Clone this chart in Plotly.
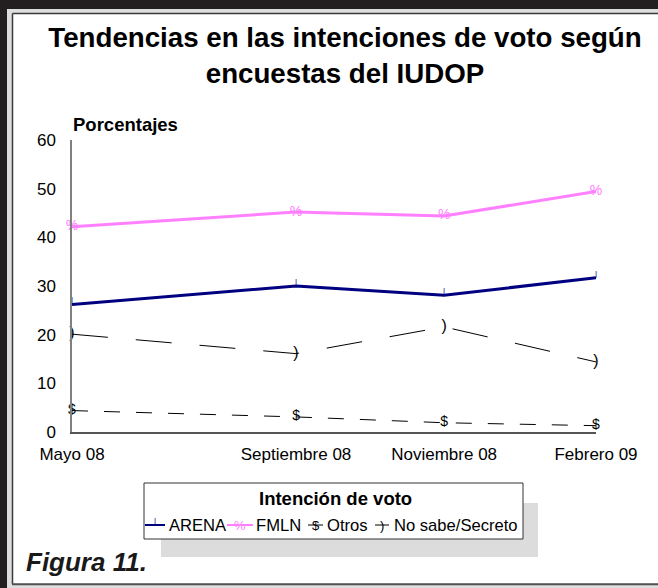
import plotly.graph_objects as go

# ---------------- data ----------------
survey_dates = ["2008-05-10", "2008-09-05", "2008-11-22", "2009-02-10"]
tick_labels = ["Mayo 08", "Septiembre 08", "Noviembre 08", "Febrero 09"]
series_names = ["ARENA", "FMLN", "Otros", "No sabe/Secreto"]
arena = [26.2, 30.0, 28.1, 31.7]
fmln = [42.2, 45.2, 44.4, 49.4]
otros = [4.4, 3.1, 1.9, 1.3]
no_sabe = [20.1, 16.1, 21.6, 14.4]
y_ticks = [0, 10, 20, 30, 40, 50, 60]

title_text = "Tendencias en las intenciones de voto según<br>encuestas del IUDOP"
y_title = "Porcentajes"
legend_title = "Intención de voto"
figure_label = "Figura 11."

# ---------------- styles ----------------
FONT = "Liberation Sans, Arial, sans-serif"
W, H = 658, 588
L, R, T, B = 72, 596, 140, 432  # plot area in pixels


def px(x):
    return (x - L) / (R - L)


def py(y):
    return (B - y) / (B - T)


styles = {
    "ARENA": dict(color="#000080", width=3, dash="solid", glyph="|", gsize=8, gpos="top center"),
    "FMLN": dict(color="#ff80ff", width=3, dash="solid", glyph="%", gsize=14, gpos="middle center"),
    "Otros": dict(color="#000000", width=1, dash="16px,16px", glyph="$", gsize=14, gpos="middle center"),
    "No sabe/Secreto": dict(color="#000000", width=1, dash="36px,28px", glyph=")", gsize=16, gpos="middle center"),
}
values = dict(zip(series_names, [arena, fmln, otros, no_sabe]))

fig = go.Figure()
for name in series_names:
    s = styles[name]
    fig.add_trace(go.Scatter(
        x=survey_dates, y=values[name], name=name,
        mode="lines+text",
        text=[s["glyph"]] * len(survey_dates),
        textposition=s["gpos"],
        textfont=dict(family=FONT, size=s["gsize"], color=s["color"]),
        line=dict(color=s["color"], width=s["width"], dash=s["dash"]),
        cliponaxis=False, showlegend=False,
    ))

shapes = []


def rect(x0, y0, x1, y1, fill, line=None):
    shapes.append(dict(type="rect", xref="paper", yref="paper", layer="below",
                       x0=px(x0), x1=px(x1), y0=py(y0), y1=py(y1),
                       fillcolor=fill, line=line or dict(width=0)))


def seg(x0, y0, x1, y1, color, width):
    shapes.append(dict(type="line", xref="paper", yref="paper", layer="below",
                       x0=px(x0), x1=px(x1), y0=py(y0), y1=py(y1),
                       line=dict(color=color, width=width)))


# frame
rect(0, 0, W, H, "#dedede")
rect(12.5, 13.5, W + 2, 583.5, "#ffffff")
rect(0, 0, W + 2, 9, "#231f20")
rect(0, 0, 7, H + 2, "#231f20")
seg(12.5, 13.5, 12.5, 584, "#3a3a3a", 1.5)
seg(12.5, 13.5, W + 2, 13.5, "#3a3a3a", 1.5)
seg(12, 584.3, W + 2, 584.3, "#505050", 2)

# legend shadow and box
rect(161, 503, 538, 557, "#dcdcdc")
rect(144, 483, 523, 539, "#ffffff", dict(color="#333333", width=1))

annotations = []


def text(x, y, t, size, color="#000000", bold=False, italic=False, xanchor="center"):
    if bold:
        t = "<b>" + t + "</b>"
    if italic:
        t = "<i>" + t + "</i>"
    annotations.append(dict(x=px(x), y=py(y), xref="paper", yref="paper", text=t,
                            showarrow=False, xanchor=xanchor, yanchor="middle",
                            font=dict(family=FONT, size=size, color=color)))


text(71, 124, y_title, 18.5, bold=True, xanchor="left")
text(86, 562, figure_label, 26, color="#1a1a1a", bold=True, italic=True)
text(335, 498, legend_title, 18.5, bold=True)

# legend entries
leg = [
    ("ARENA", 145, 165, 167),
    ("FMLN", 227, 253, 254),
    ("Otros", 308, 323, 325),
    ("No sabe/Secreto", 375, 389, 391.5),
]
ly = 525
for name, x0, x1, tx in leg:
    s = styles[name]
    seg(x0, ly, x1, ly, s["color"], 2 if s["width"] > 1 else 1)
    gy = ly - 5 if name == "ARENA" else ly
    text((x0 + x1) / 2, gy, s["glyph"], 8 if name == "ARENA" else 13, color=s["color"])
    text(tx, ly, name, 16.6, xanchor="left")

fig.update_layout(
    width=W, height=H,
    margin=dict(l=L, r=W - R, t=T, b=H - B, pad=0),
    paper_bgcolor="#ffffff", plot_bgcolor="rgba(0,0,0,0)",
    showlegend=False,
    title=dict(text="<b>" + title_text + "</b>", x=345 / W, xanchor="center",
               y=1 - 47 / H, yanchor="top", yref="container",
               font=dict(family=FONT, size=27.7, color="#000000")),
    font=dict(family=FONT, color="#000000"),
    xaxis=dict(type="date", range=[survey_dates[0], survey_dates[-1]],
               tickmode="array", tickvals=survey_dates, ticktext=tick_labels,
               showgrid=False, zeroline=False, showline=True,
               linecolor="#555555", linewidth=1.5, ticks="",
               ticklabelstandoff=6, tickfont=dict(family=FONT, size=17)),
    yaxis=dict(range=[0, 60], tickmode="array", tickvals=y_ticks,
               showgrid=False, zeroline=False, showline=True,
               linecolor="#808080", linewidth=1.5, ticks="",
               ticklabelstandoff=11, tickfont=dict(family=FONT, size=17)),
    shapes=shapes, annotations=annotations,
)

fig.write_html("out.html", config={"displayModeBar": False},
               post_script="document.body.style.margin='0';")
